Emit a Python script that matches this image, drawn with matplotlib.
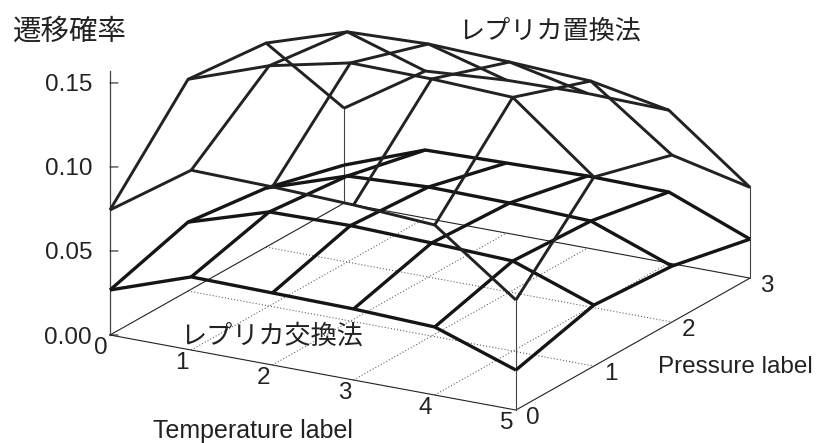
import numpy as np
import matplotlib
matplotlib.use("Agg")
import matplotlib.pyplot as plt
from mpl_toolkits.mplot3d import proj3d

temperature_labels = [0, 1, 2, 3, 4, 5]
pressure_labels = [0, 1, 2, 3]
z_ticks = [0.00, 0.05, 0.10, 0.15]
z_top = 0.157

# rows: pressure label 0..3; columns: temperature label 0..5
replica_permutation = [
    [0.0744, 0.1070, 0.1060, 0.1042, 0.1012, 0.0655],
    [0.1260, 0.1430, 0.1536, 0.1530, 0.1510, 0.1125],
    [0.1214, 0.1370, 0.1387, 0.1369, 0.1345, 0.0994],
    [0.0565, 0.0875, 0.0910, 0.0920, 0.0910, 0.0540],
]
replica_exchange = [
    [0.0268, 0.0435, 0.0429, 0.0423, 0.0405, 0.0238],
    [0.0410, 0.0560, 0.0568, 0.0554, 0.0536, 0.0363],
    [0.0351, 0.0512, 0.0536, 0.0530, 0.0512, 0.0333],
    [0.0226, 0.0405, 0.0417, 0.0429, 0.0423, 0.0232],
]

W, H = 817, 443
INK = "#222222"
LATIN = "Liberation Sans"
CJK = "Noto Sans CJK JP"

fig = plt.figure(figsize=(W / 100, H / 100), dpi=100)
S0 = 800.0
ax = fig.add_axes([0, 0, S0 / W, S0 / H], projection="3d")
ax.set_proj_type("ortho")
ax.view_init(elev=18.83, azim=-60.2)
ax.set_xlim(0, 5, view_margin=0)
ax.set_ylim(0, 3, view_margin=0)
ax.set_zlim(0, z_top, view_margin=0)
ax.set_box_aspect((467.7, 471.0, 278.7))
ax.set_axis_off()


def to_px(x, y, z):
    xs, ys, _ = proj3d.proj_transform(x, y, z, ax.get_proj())
    return ax.transData.transform((xs, ys))


# fit the axes so that the floor corners land where the reference has them
x0, y0, S = 0.0, 0.0, S0
for _ in range(3):
    a = to_px(0, 0, 0)
    c = to_px(5, 3, 0)
    S *= 640.0 / (c[0] - a[0])
    ax.set_position([x0 / W, y0 / H, S / W, S / H])
    a = to_px(0, 0, 0)
    x0 += 110 - a[0]
    y0 += (H - 335) - a[1]
    ax.set_position([x0 / W, y0 / H, S / W, S / H])

tmax, pmax = temperature_labels[-1], pressure_labels[-1]

# floor grid
for t in temperature_labels[1:-1]:
    ax.plot([t, t], [0, pmax], [0, 0], color="#555555", lw=0.75, ls=(0, (1, 2)))
for p in pressure_labels[1:-1]:
    ax.plot([0, tmax], [p, p], [0, 0], color="#555555", lw=0.75, ls=(0, (1, 2)))

# floor outline
ax.plot([0, tmax, tmax, 0, 0], [0, 0, pmax, pmax, 0], [0, 0, 0, 0, 0],
        color=INK, lw=0.8)

# z axis and the verticals at the other corners
surface = np.array(replica_permutation)
ax.plot([0, 0], [0, 0], [0, z_top], color="#444444", lw=0.9)
ax.plot([tmax, tmax], [0, 0], [0, surface[0, -1]], color="#444444", lw=0.8)
ax.plot([tmax, tmax], [pmax, pmax], [0, surface[-1, -1]], color="#444444", lw=0.8)
ax.plot([0, 0], [pmax, pmax], [0, surface[-1, 0]], color="#444444", lw=0.8)

# surfaces
T, P = np.meshgrid(temperature_labels, pressure_labels)
ax.plot_wireframe(T, P, surface, rstride=1, cstride=1, color=INK, lw=2.1)
ax.plot_wireframe(T, P, np.array(replica_exchange), rstride=1, cstride=1,
                  color="#151515", lw=2.4)


def label(text, x, y, z, dx, dy, ha="center"):
    xs, ys, _ = proj3d.proj_transform(x, y, z, ax.get_proj())
    ax.annotate(text, xy=(xs, ys), xytext=(dx, dy), textcoords="offset pixels",
                ha=ha, va="center", fontsize=17.5, family=LATIN, color=INK,
                annotation_clip=False)


for t in temperature_labels:
    label(str(t), t, 0, 0, -9, -13)
for p in pressure_labels:
    label(str(p), tmax, p, 0, 17, -8)
for z in z_ticks:
    label(f"{z:.2f}", 0, 0, z, -18, -2.5, ha="right")
    xs, ys, _ = proj3d.proj_transform(0, 0, z, ax.get_proj())
    ax.annotate("", xy=(xs, ys), xytext=(8, 0), textcoords="offset pixels",
                annotation_clip=False,
                arrowprops=dict(arrowstyle="-", lw=0.8, color=INK,
                                shrinkA=0, shrinkB=0))


def free_text(text, x, y, size, family):
    fig.text(x / W, 1 - y / H, text, ha="center", va="center",
             fontsize=size, family=family, color=INK)


free_text("Temperature label", 253, 431, 18, LATIN)
free_text("Pressure label", 735, 367, 17.5, LATIN)
free_text("遷移確率", 69.5, 32, 20.5, CJK)
free_text("レプリカ置換法", 550, 31, 18.8, CJK)
free_text("レプリカ交換法", 272, 336, 18.8, CJK)

fig.savefig("out.png", dpi=100)
